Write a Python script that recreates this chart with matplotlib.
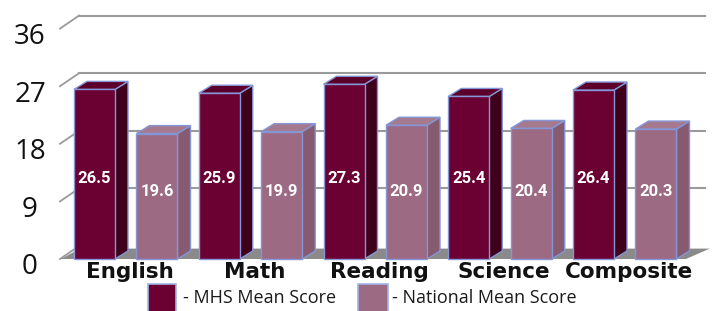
import matplotlib
matplotlib.use("Agg")
import matplotlib.pyplot as plt
from matplotlib.patches import Rectangle
import numpy as np

# ---- data ----
categories = ["English", "Math", "Reading", "Science", "Composite"]
mhs_scores = [26.5, 25.9, 27.3, 25.4, 26.4]
national_scores = [19.6, 19.9, 20.9, 20.4, 20.3]
y_ticks = [0, 9, 18, 27, 36]
legend_labels = ["- MHS Mean Score", "- National Mean Score"]

# ---- styling / geometry ----
W, H = 713, 311
Y0_PX, PPU = 259.0, 6.4           # pixel of value 0, pixels per score unit
X0_PX, PPC = 125.75, 124.75       # pixel of category 0 centre, pixels per category

mhs_front, mhs_side, mhs_top = "#6b0033", "#3f001b", "#5a002a"
nat_front, nat_side, nat_top = "#9c6a82", "#875a70", "#a57a8f"
edge_col = "#8496d6"
grid_col = "#9a9a9a"
floor_col = "#8a8a8a"

fig = plt.figure(figsize=(W / 100, H / 100), dpi=100)
ax = fig.add_axes([0, 0, 1, 1])
ax.set_xlim((0 - X0_PX) / PPC, (W - X0_PX) / PPC)
ax.set_ylim(-(H - Y0_PX) / PPU, Y0_PX / PPU)
ax.axis("off")

def px_x(p):
    return (p - X0_PX) / PPC

bdx, bdy = 13 / PPC, 8 / PPU       # bar depth
pdx, pdy = 19 / PPC, 13 / PPU      # plane depth
x_front_left = px_x(60)
x_back_right = px_x(705)

# gridlines and left perspective ticks
for t in y_ticks:
    ax.plot([x_front_left, x_front_left + pdx], [t, t + pdy], color=grid_col, lw=1.3, zorder=1)
    if t > 0:
        ax.plot([x_front_left + pdx, x_back_right], [t + pdy, t + pdy], color=grid_col, lw=1.5, zorder=1)
    ax.text(px_x(30), t - 1.3, str(t), ha="center", va="center", fontsize=20,
            family="Open Sans", color="#111111", zorder=5)

# floor
fl, fr = px_x(61), px_x(686)
ax.fill([fl, fr, fr + pdx * 1.25, fl + pdx], [0, 0, pdy * 0.8, pdy * 0.8],
        color=floor_col, zorder=1.5, lw=0)

x = np.arange(len(categories))
bw = 41 / PPC
off = 31.25 / PPC

def draw_bars(xs, vals, front, side, top, z):
    bars = ax.bar(xs, vals, width=bw, color=front, edgecolor=edge_col, linewidth=1.0, zorder=z)
    for b in bars:
        l, w, h = b.get_x(), b.get_width(), b.get_height()
        r = l + w
        ax.fill([r, r + bdx, r + bdx, r], [0, bdy, h + bdy, h], facecolor=side,
                edgecolor=edge_col, linewidth=1.0, zorder=z - 0.1)
        ax.fill([l, r, r + bdx, l + bdx], [h, h, h + bdy, h + bdy], facecolor=top,
                edgecolor=edge_col, linewidth=1.0, zorder=z - 0.1)
    return bars

draw_bars(x - off, mhs_scores, mhs_front, mhs_side, mhs_top, 3)
draw_bars(x + off, national_scores, nat_front, nat_side, nat_top, 3)

lab_font = ["Roboto", "DejaVu Sans"]
for xi, v in zip(x - off, mhs_scores):
    ax.text(xi, 12.6, f"{v}", ha="center", va="center", color="white", fontsize=12,
            fontweight="bold", family=lab_font, zorder=6)
for xi, v in zip(x + off, national_scores):
    ax.text(xi, 10.6, f"{v}", ha="center", va="center", color="white", fontsize=12,
            fontweight="bold", family=lab_font, zorder=6)

for xi, c in zip(x, categories):
    ax.text(xi + 4 / PPC, -2.1, c, ha="center", va="center", fontsize=15.5,
            fontweight="bold", family="DejaVu Sans", color="#111111", zorder=6)

# legend
def fig_rect(x0, y0, w, h, col):
    fig.patches.append(Rectangle((x0 / W, 1 - (y0 + h) / H), w / W, h / H,
                                 transform=fig.transFigure, facecolor=col,
                                 edgecolor="#9fb4e6", linewidth=1.2))

fig_rect(148, 284, 28, 30, mhs_front)
fig_rect(358, 284, 30, 30, nat_front)
fig.text(183 / W, 1 - 298 / H, legend_labels[0], ha="left", va="center", fontsize=13,
         family="Open Sans", color="#1a1a1a")
fig.text(392 / W, 1 - 298 / H, legend_labels[1], ha="left", va="center", fontsize=13,
         family="Open Sans", color="#1a1a1a")

fig.savefig("out.png", dpi=100, facecolor="white")
